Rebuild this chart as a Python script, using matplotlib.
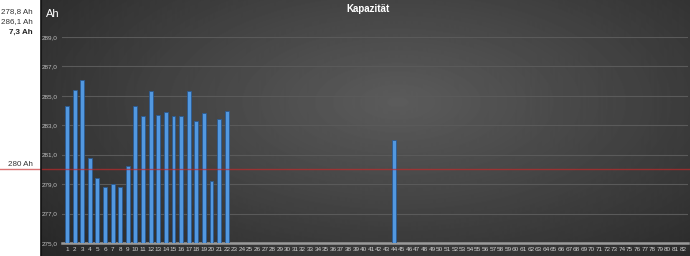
import numpy as np
import matplotlib.pyplot as plt
import matplotlib.transforms as mtransforms

# Kapazität per cell (Ah), cells 1..82 (only 1-22 and 44 measured)
CELLS = list(range(1, 83))
MEASURED = {
    1: 284.3, 2: 285.4, 3: 286.1, 4: 280.75, 5: 279.4, 6: 278.8, 7: 279.0,
    8: 278.8, 9: 280.2, 10: 284.3, 11: 283.65, 12: 285.3, 13: 283.7,
    14: 283.9, 15: 283.65, 16: 283.6, 17: 285.35, 18: 283.3, 19: 283.85,
    20: 279.2, 21: 283.4, 22: 284.0, 44: 282.0,
}
Y_TICKS = [275, 277, 279, 281, 283, 285, 287, 289]
NOMINAL = 280
SUMMARY = ["278,8 Ah", "286,1 Ah", "7,3 Ah"]

plt.rcParams["font.family"] = ["Liberation Sans", "DejaVu Sans"]

fig = plt.figure(figsize=(6.9, 2.56), dpi=100)
fig.patch.set_facecolor("white")

# dark radial background
bg = fig.add_axes([41 / 690, 0, 1 - 41 / 690, 1])
yy, xx = np.mgrid[0:1:256j, 0:1:650j]
d = np.sqrt(((xx - 0.55) / 0.75) ** 2 + ((yy - 0.4) / 0.9) ** 2)
val = np.clip(0.36 - 0.21 * d, 0.15, 0.36)
bg.imshow(val, cmap="gray", vmin=0, vmax=1, aspect="auto", extent=[0, 1, 0, 1])
bg.set_axis_off()
fig.add_artist(plt.Line2D([41 / 690, 41 / 690], [0, 1], color="#111111",
                          linewidth=1.2, transform=fig.transFigure))

ax = fig.add_axes([62 / 690, 13 / 256, 626 / 690, 206 / 256])
ax.patch.set_alpha(0)
xs = [c for c in CELLS if c in MEASURED]
ys = [MEASURED[c] for c in xs]
ax.bar(xs, [v - 275 for v in ys], bottom=275, width=0.52,
       color="#5298e0", edgecolor="#2a5a92", linewidth=0.6, zorder=3)

ax.set_xlim(0.34, 82.66)
ax.set_ylim(275, 289)
ax.set_xticks(CELLS)
ax.set_xticklabels([str(c) for c in CELLS])
ax.set_yticks(Y_TICKS)
ax.set_yticklabels([f"{t:.1f}".replace(".", ",") for t in Y_TICKS])
ax.tick_params(axis="x", length=0, labelsize=4.6, colors="#d0d0d0", pad=3)
ax.tick_params(axis="y", length=0, labelsize=4.6, colors="#c0c0c0", pad=3)
ax.grid(axis="y", color="#5a5a5a", linewidth=0.8)
ax.set_axisbelow(True)
for s in ["top", "right", "left"]:
    ax.spines[s].set_visible(False)
ax.spines["bottom"].set_color("#9a9a9a")
ax.spines["bottom"].set_linewidth(1.8)

# nominal capacity line across whole figure
tr = mtransforms.blended_transform_factory(fig.transFigure, ax.transData)
ax.plot([0, 1], [NOMINAL, NOMINAL], transform=tr, color="#c82828",
        alpha=0.65, linewidth=1, clip_on=False, zorder=5)

fig.text(33 / 690, 1 - 12 / 256, SUMMARY[0], ha="right", va="center",
         fontsize=5.8, color="#333333")
fig.text(33 / 690, 1 - 22 / 256, SUMMARY[1], ha="right", va="center",
         fontsize=5.8, color="#333333")
fig.text(33 / 690, 1 - 32 / 256, SUMMARY[2], ha="right", va="center",
         fontsize=5.8, color="#222222", fontweight="bold")
fig.text(33 / 690, 1 - 164 / 256, f"{NOMINAL} Ah", ha="right", va="center",
         fontsize=5.8, color="#333333")

fig.text(46 / 690, 1 - 14 / 256, "Ah", ha="left", va="center",
         fontsize=8, color="white")
fig.text(368 / 690, 1 - 9 / 256, "Kapazität", ha="center", va="center",
         fontsize=7, color="white", fontweight="bold")

fig.savefig("out.png", dpi=100)
